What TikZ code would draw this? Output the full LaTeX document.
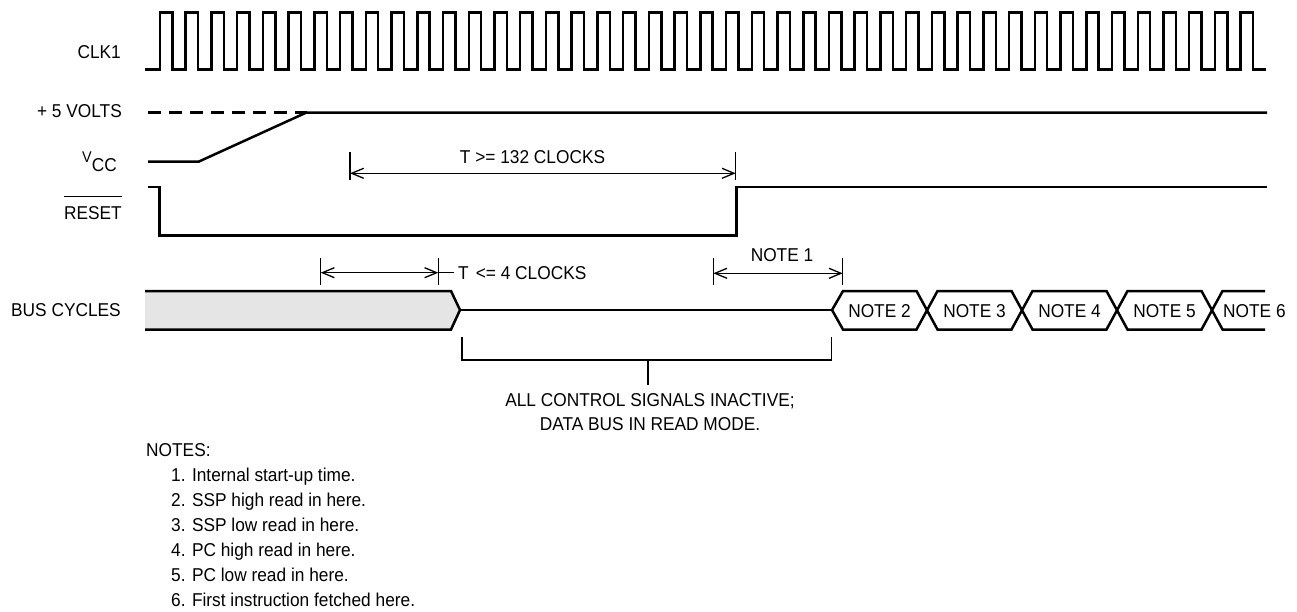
\documentclass[tikz,border=0pt]{standalone}
\usepackage{fontspec}
\setmainfont[FakeStretch=0.93]{Liberation Sans}
\usetikzlibrary{arrows.meta}
\begin{document}
\begin{tikzpicture}[x=1pt,y=-1pt,
  sig/.style={line width=2.5pt, line join=miter},
  thin/.style={line width=1.3pt},
  dimarrow/.style={line width=1.3pt, {Straight Barb[length=12pt,width=10pt]}-{Straight Barb[length=12pt,width=10pt]}},
  lbl/.style={font=\fontsize{18.6}{23}\selectfont, inner sep=0pt},
]
\useasboundingbox (0,0) rectangle (1297,611);

% ---- labels on the left
\node[lbl,anchor=base east] (clk) at (121,58.5) {CLK1};
\node[lbl,anchor=base east] (volts) at (122,117.5) {+ 5 VOLTS};
\node[lbl,anchor=base east] (vcc) at (117,171) {{\fontsize{15.5}{15.5}\selectfont\raisebox{9pt}{V}}CC};
\node[lbl,anchor=base east] (rst) at (122,219.5) {RESET};
\draw[thin] ([yshift=9.5pt]rst.north west) -- ([yshift=9.5pt]rst.north east);
\node[lbl,anchor=base east] (bus) at (121,316.5) {BUS CYCLES};

% ---- CLK1
\draw[sig] (145,69.5) -- (160,69.5)
  \foreach \i in {1,...,43} { -- ++(0,-57) -- ++(12.4,0) -- ++(0,57) -- ++(13.33,0) };

% ---- +5 V / VCC
\coordinate (v0) at (148,112.5);
\coordinate (ramp) at (306.5,112.5);
\coordinate (vend) at (1267,112.5);
\coordinate (vcc0) at (148,161.5);
\coordinate (vcc1) at (199,161.5);
\draw[sig, dash pattern=on 13pt off 8pt] (v0) -- (ramp);
\draw[sig] (vcc0) -- (vcc1) -- (ramp) -- (vend);

% ---- RESET
\coordinate (r0) at (148,187);
\coordinate (r1) at (159.5,187);
\coordinate (r2) at (159.5,235.5);
\coordinate (r3) at (736.5,235.5);
\coordinate (r4) at (736.5,187);
\coordinate (r5) at (1267,187);
\draw[sig] (r0) -- (r1) -- (r2) -- (r3) -- (r4) -- (r5);

% ---- T >= 132 clocks
\coordinate (t1a) at (350,152); \coordinate (t1b) at (350,180);
\coordinate (t2a) at (735.7,152); \coordinate (t2b) at (735.7,180);
\coordinate (a1) at (350,173.3); \coordinate (a2) at (735.7,173.3);
\draw[thin] (t1a) -- (t1b);
\draw[thin] (t2a) -- (t2b);
\draw[dimarrow] (a1) -- (a2);
\node[lbl,anchor=base] (t132) at (532.5,163.5) {T >= 132 CLOCKS};

% ---- T <= 4 clocks
\coordinate (u1a) at (320.7,258); \coordinate (u1b) at (320.7,285);
\coordinate (u2a) at (438.3,258); \coordinate (u2b) at (438.3,285);
\coordinate (b1) at (320.7,272.7); \coordinate (b2) at (438.3,272.7);
\coordinate (b3) at (454,272.7);
\draw[thin] (u1a) -- (u1b);
\draw[thin] (u2a) -- (u2b);
\draw[dimarrow] (b1) -- (b2);
\draw[thin] (b2) -- (b3);
\node[lbl,anchor=base west] (t4) at (458,279.5) {T\hspace{7pt}<= 4 CLOCKS};

% ---- NOTE 1
\coordinate (n1a) at (713.3,258); \coordinate (n1b) at (713.3,285);
\coordinate (n2a) at (842.7,258); \coordinate (n2b) at (842.7,285);
\coordinate (c1) at (713.3,273.3); \coordinate (c2) at (842.7,273.3);
\draw[thin] (n1a) -- (n1b);
\draw[thin] (n2a) -- (n2b);
\draw[dimarrow] (c1) -- (c2);
\node[lbl,anchor=base] (note1) at (782,261) {NOTE 1};

% ---- BUS CYCLES
\fill[fill={rgb,255:red,229;green,229;blue,229}] (145,291) -- (451,291) -- (460,310) -- (451,329.5) -- (145,329.5) -- cycle;
\draw[sig] (145,291) -- (451,291) -- (460,310) -- (451,329.5) -- (145,329.5);
\coordinate (m0) at (460,310);
\coordinate (m1) at (832,310);
\draw[sig] (m0) -- (m1);
\draw[sig] (m1) -- (843,291) -- (916.5,291) -- (937.5,329.5) -- (1011.5,329.5) -- (1032.5,291) -- (1106.5,291) -- (1127.5,329.5) -- (1201.5,329.5) -- (1222.5,291) -- (1265,291);
\draw[sig] (m1) -- (843,329.5) -- (916.5,329.5) -- (937.5,291) -- (1011.5,291) -- (1032.5,329.5) -- (1106.5,329.5) -- (1127.5,291) -- (1201.5,291) -- (1222.5,329.5) -- (1265,329.5);
\node[lbl,anchor=base] (note2) at (879.5,317) {NOTE 2};
\node[lbl,anchor=base] (note3) at (974.5,317) {NOTE 3};
\node[lbl,anchor=base] (note4) at (1069.5,317) {NOTE 4};
\node[lbl,anchor=base] (note5) at (1164.5,317) {NOTE 5};
\node[lbl,anchor=base west] (note6) at (1223,317) {NOTE 6};

% ---- bracket
\coordinate (k1) at (462,337); \coordinate (k2) at (462,360);
\coordinate (k3) at (831.5,360); \coordinate (k4) at (831.5,337);
\coordinate (k5) at (648,360); \coordinate (k6) at (648,385);
\draw[thin] (k1) -- (k2) -- (k3) -- (k4);
\draw[thin] (k5) -- (k6);
\node[lbl,anchor=base] (all1) at (650,406.5) {ALL CONTROL SIGNALS INACTIVE;};
\node[lbl,anchor=base] (all2) at (650,430) {DATA BUS IN READ MODE.};

% ---- notes
\node[lbl,anchor=base west] (notes) at (146,456.5) {NOTES:};
\node[lbl,anchor=base west] (nt1) at (171,481.5) {1. Internal start-up time.};
\node[lbl,anchor=base west] (nt2) at (171,506.5) {2. SSP high read in here.};
\node[lbl,anchor=base west] (nt3) at (171,531.5) {3. SSP low read in here.};
\node[lbl,anchor=base west] (nt4) at (171,556.5) {4. PC high read in here.};
\node[lbl,anchor=base west] (nt5) at (171,581.5) {5. PC low read in here.};
\node[lbl,anchor=base west] (nt6) at (171,606.5) {6. First instruction fetched here.};
\end{tikzpicture}
\end{document}
